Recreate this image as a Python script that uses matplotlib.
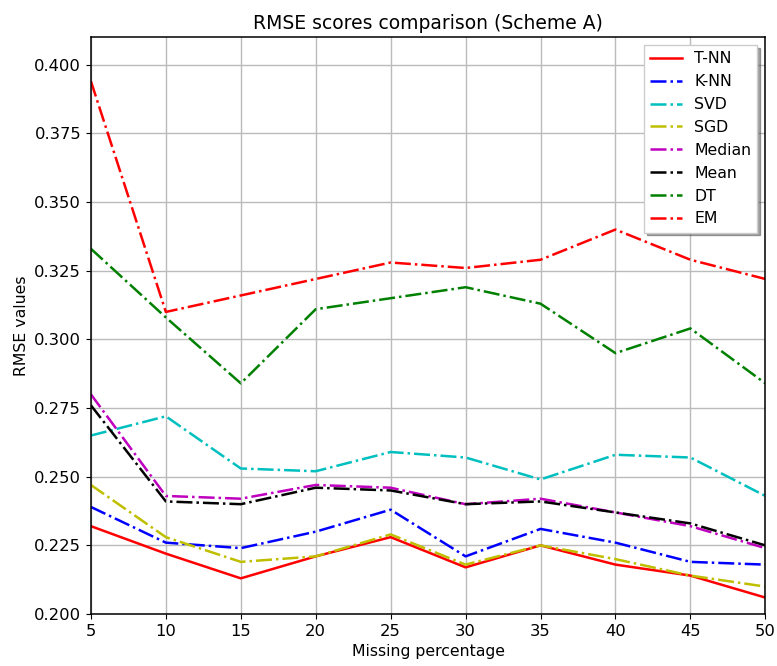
import matplotlib
matplotlib.use("Agg")
import matplotlib.pyplot as plt

# missing percentage on the x axis
missing = [5, 10, 15, 20, 25, 30, 35, 40, 45, 50]

# RMSE per imputation method
tnn    = [0.232, 0.222, 0.213, 0.221, 0.228, 0.217, 0.225, 0.218, 0.214, 0.206]
knn    = [0.239, 0.226, 0.224, 0.230, 0.238, 0.221, 0.231, 0.226, 0.219, 0.218]
svd    = [0.265, 0.272, 0.253, 0.252, 0.259, 0.257, 0.249, 0.258, 0.257, 0.243]
sgd    = [0.247, 0.228, 0.219, 0.221, 0.229, 0.218, 0.225, 0.220, 0.214, 0.210]
median = [0.280, 0.243, 0.242, 0.247, 0.246, 0.240, 0.242, 0.237, 0.232, 0.224]
mean   = [0.276, 0.241, 0.240, 0.246, 0.245, 0.240, 0.241, 0.237, 0.233, 0.225]
dt     = [0.333, 0.308, 0.284, 0.311, 0.315, 0.319, 0.313, 0.295, 0.304, 0.284]
em     = [0.394, 0.310, 0.316, 0.322, 0.328, 0.326, 0.329, 0.340, 0.329, 0.322]

fig = plt.figure(figsize=(7.77, 6.66), dpi=100)
ax = fig.add_axes([0.117, 0.078, 0.868, 0.866])

lw = 1.8
ax.plot(missing, tnn, 'r-', label='T-NN', linewidth=lw)
ax.plot(missing, knn, 'b-.', label='K-NN', linewidth=lw)
ax.plot(missing, svd, 'c-.', label='SVD', linewidth=lw)
ax.plot(missing, sgd, 'y-.', label='SGD', linewidth=lw)
ax.plot(missing, median, 'm-.', label='Median', linewidth=lw)
ax.plot(missing, mean, 'k-.', label='Mean', linewidth=lw)
ax.plot(missing, dt, 'g-.', label='DT', linewidth=lw)
ax.plot(missing, em, 'r-.', label='EM', linewidth=lw)

ax.set_xlim(5, 50)
ax.set_ylim(0.2, 0.41)
ax.set_xticks(missing)
ax.set_yticks([0.200, 0.225, 0.250, 0.275, 0.300, 0.325, 0.350, 0.375, 0.400])
ax.yaxis.set_major_formatter(matplotlib.ticker.FormatStrFormatter('%.3f'))
ax.tick_params(labelsize=11.8)
ax.grid(True, linewidth=1.0, color='#bbbbbb')
for s in ax.spines.values():
    s.set_linewidth(1.1)

ax.set_title("RMSE scores comparison (Scheme A)", fontsize=13.5)
ax.set_xlabel("Missing percentage", fontsize=11.3)
ax.set_ylabel("RMSE values", fontsize=11.3)

ax.legend(loc='upper right', shadow=True, fancybox=False, fontsize=11.3)

plt.savefig("out.png")
